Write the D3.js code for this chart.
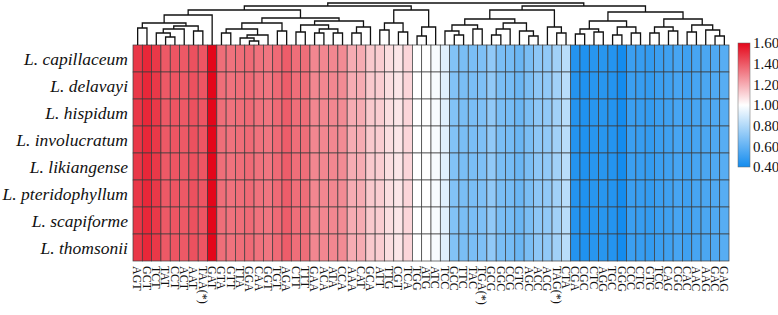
<!DOCTYPE html>
<html>
<head>
<meta charset="utf-8">
<script src="https://cdn.jsdelivr.net/npm/d3@7"></script>
<style>
body { margin: 0; background: #fff; }
svg text { font-family: "Liberation Serif", "Times New Roman", serif; fill: #111; }
</style>
</head>
<body>
<svg id="chart" width="778" height="315"></svg>
<script>
var species = ['L. capillaceum', 'L. delavayi', 'L. hispidum', 'L. involucratum',
    'L. likiangense', 'L. pteridophyllum', 'L. scapiforme', 'L. thomsonii'];

var codons = ['AGT', 'GCT', 'TCT', 'TAT', 'CCT', 'ACT', 'AAT', 'TAA(*)', 'GAT', 'GTA',
    'GTT', 'TTA', 'GGA', 'CAA', 'GGT', 'TGT', 'AGA', 'CTT', 'TTT', 'GAA',
    'ACA', 'ATA', 'CCA', 'AAA', 'CAT', 'GCA', 'ATT', 'TTG', 'CGT', 'TCA',
    'TGG', 'ATG', 'ATC', 'TCC', 'GCC', 'TTC', 'TAC', 'TGA(*)', 'GCG', 'GGC',
    'CCG', 'GTC', 'AGC', 'ACC', 'ACG', 'TAG(*)', 'CTA', 'CGA', 'CGC', 'CTC',
    'AGG', 'TGC', 'GGG', 'CCC', 'CTG', 'GTG', 'TCG', 'CAG', 'CGG', 'CAC',
    'AAC', 'AAG', 'GAC', 'GAG'];

// RSCU per codon (rows are practically identical in the figure)
var rscu = [1.48, 1.52, 1.48, 1.40, 1.41, 1.40, 1.42, 1.41, 1.60, 1.35,
    1.34, 1.35, 1.36, 1.34, 1.33, 1.36, 1.39, 1.35, 1.35, 1.29,
    1.29, 1.29, 1.28, 1.20, 1.20, 1.13, 1.12, 1.08, 1.06, 1.10,
    1.00, 1.00, 0.98, 0.92, 0.68, 0.66, 0.66, 0.67, 0.72, 0.66,
    0.65, 0.62, 0.66, 0.71, 0.72, 0.76, 0.82, 0.44, 0.43, 0.45,
    0.45, 0.44, 0.40, 0.50, 0.49, 0.48, 0.50, 0.51, 0.53, 0.51,
    0.53, 0.54, 0.55, 0.57];

var legendTicks = [0.4, 0.6, 0.8, 1.0, 1.2, 1.4, 1.6];

// column dendrogram: [height, left, right], leaves are column indices
var tree = [42,
    [39,
        [35,
            [30, [22, [17, 0, 1], [19, [16, [12, 2, [8, 3, 4]], 5], [14, 6, 7]]], 8],
            [27,
                [22, [16, [12, 9, 10], [10, [7, 11, [4, 12, 13]], 14]], [14, 15, 16]],
                [24, [20, [13, 17, 18], [16, [12, 19, 20], [12, 21, 22]]], [18, [12, 23, 24], 25]]]],
        [35, [22, [15, 26, 27], [13, 28, 29]], [18, [9, 30, 31], 32]]],
    [39,
        [35,
            [26, [20, [14, 33, [10, 34, 35]], [16, 36, 37]], [22, [16, [10, 38, 39], 40], [14, 41, [9, 42, 43]]]],
            [18, 44, [12, 45, 46]]],
        [33,
            [24, [16, [11, 47, 48], [13, 49, 50]], [18, [10, 51, 52], [12, 53, 54]]],
            [26, [18, [12, 55, 56], [14, 57, 58]], [20, [13, 59, 60], [15, 61, [9, 62, 63]]]]]]];

var svg = d3.select('#chart');

var x = d3.scaleBand().domain(codons).range([133, 729]);
var y = d3.scaleBand().domain(species).range([45, 261]);
var color = d3.scaleLinear()
    .domain([0.4, 1.0, 1.6])
    .range(['rgb(20,140,238)', '#ffffff', 'rgb(228,6,26)'])
    .interpolate(d3.interpolateRgb);

// heatmap cells
var cells = [];
species.forEach(function(s) {
    codons.forEach(function(c, j) {
        cells.push({ s: s, c: c, v: rscu[j] });
    });
});

svg.append('g')
    .selectAll('rect')
    .data(cells)
    .enter()
    .append('rect')
    .attr('x', d => x(d.c))
    .attr('y', d => y(d.s))
    .attr('width', x.bandwidth())
    .attr('height', y.bandwidth())
    .attr('fill', d => color(d.v))
    .attr('stroke', '#3c3c3c')
    .attr('stroke-width', 0.7);

// row labels
svg.append('g')
    .selectAll('text')
    .data(species)
    .enter()
    .append('text')
    .attr('x', 128)
    .attr('y', d => y(d) + y.bandwidth() / 2 + 6)
    .attr('text-anchor', 'end')
    .style('font-size', '17.5px')
    .style('font-style', 'italic')
    .text(d => d);

// column labels, rotated
svg.append('g')
    .selectAll('text')
    .data(codons)
    .enter()
    .append('text')
    .attr('transform', d => 'translate(' + (x(d) + x.bandwidth() / 2) + ',266) rotate(90)')
    .attr('dy', '0.35em')
    .style('font-size', '12px')
    .text(d => d);

// dendrogram
var dy = d3.scaleLinear().domain([0, 42]).range([45, 3]);
var links = [];
function layout(node) {
    if (typeof node === 'number') {
        return { x: x(codons[node]) + x.bandwidth() / 2, h: 0 };
    }
    var l = layout(node[1]), r = layout(node[2]);
    links.push({ l: l, r: r, h: node[0] });
    return { x: (l.x + r.x) / 2, h: node[0] };
}
layout(tree);

svg.append('g')
    .selectAll('path')
    .data(links)
    .enter()
    .append('path')
    .attr('d', d => 'M' + d.l.x + ',' + dy(d.l.h) + 'V' + dy(d.h) + 'H' + d.r.x + 'V' + dy(d.r.h))
    .attr('fill', 'none')
    .attr('stroke', '#111')
    .attr('stroke-width', 1.3);

// colour legend
var defs = svg.append('defs');
var grad = defs.append('linearGradient')
    .attr('id', 'legendGrad')
    .attr('x1', 0).attr('y1', 1).attr('x2', 0).attr('y2', 0);
grad.selectAll('stop')
    .data(legendTicks)
    .enter()
    .append('stop')
    .attr('offset', d => (d - 0.4) / 1.2)
    .attr('stop-color', d => color(d));

var ly = d3.scaleLinear().domain([0.4, 1.6]).range([167, 43]);
svg.append('rect')
    .attr('x', 738)
    .attr('y', ly(1.6))
    .attr('width', 12)
    .attr('height', ly(0.4) - ly(1.6))
    .attr('fill', 'url(#legendGrad)')
    .attr('stroke', '#666')
    .attr('stroke-width', 0.5);

var legendAxis = svg.append('g')
    .attr('transform', 'translate(750,0)')
    .call(d3.axisRight(ly).tickValues(legendTicks).tickSize(0).tickPadding(3).tickFormat(d3.format('.2f')));
legendAxis.select('.domain').remove();
legendAxis.selectAll('text')
    .style('font-size', '15px')
    .style('font-family', '"Liberation Serif", "Times New Roman", serif')
    .attr('fill', '#111');
</script>
</body>
</html>
